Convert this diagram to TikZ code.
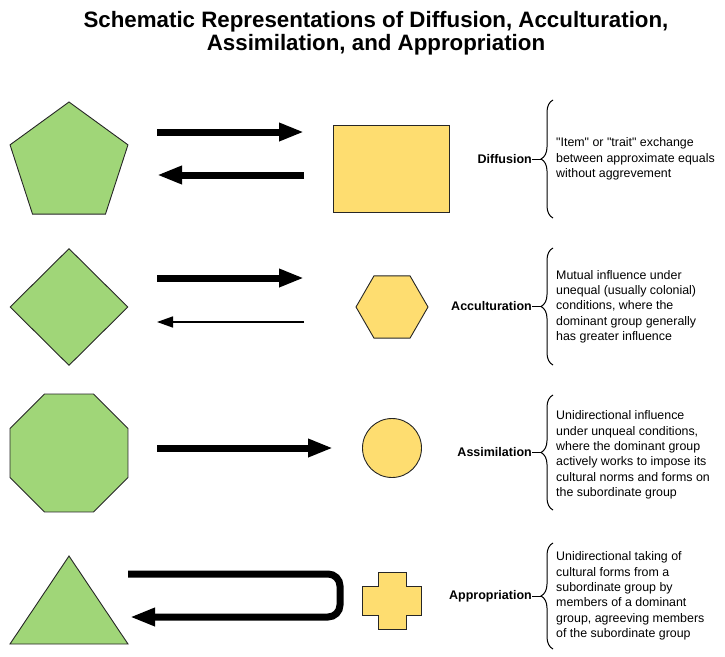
\documentclass[tikz,border=0pt]{standalone}
\usepackage{fontspec}
\setmainfont{Liberation Sans}
\usetikzlibrary{shapes.geometric, arrows.meta, decorations.pathreplacing}
\definecolor{shapegreen}{RGB}{160,214,120}
\definecolor{shapeyellow}{RGB}{254,221,112}
\tikzset{
  greenshape/.style={draw=black!85, fill=shapegreen, line width=0.9pt, inner sep=0pt},
  yellowshape/.style={draw=black!85, fill=shapeyellow, line width=0.9pt, inner sep=0pt},
  bigarrow/.style={line width=7pt, -{Triangle[length=25pt, width=17pt]}},
  thinarrow/.style={line width=1.5pt, -{Triangle[length=16pt, width=11pt]}},
  termlabel/.style={font=\bfseries\fontsize{12.5}{14}\selectfont, anchor=east, inner sep=0pt},
  description/.style={font=\fontsize{12.4}{15.3}\selectfont, align=left, anchor=west, inner sep=0pt},
  bracket/.style={decorate, decoration={brace, amplitude=12pt}, line width=1pt},
}
\begin{document}
\begin{tikzpicture}[x=1pt, y=-1pt]
  \useasboundingbox (0, 0) rectangle (725, 656);
  \node[font=\bfseries\fontsize{22.3}{23.5}\selectfont, align=center] (title) at (376, 33)
    {Schematic Representations of Diffusion, Acculturation,\\Assimilation, and Appropriation};
  % shapes
  \node[greenshape, regular polygon, regular polygon sides=5, minimum size=124pt] (pentagon) at (69, 164) {};
  \node[greenshape, diamond, minimum width=118pt, minimum height=117pt] (rhombus) at (69, 307) {};
  \node[greenshape, regular polygon, regular polygon sides=8, minimum size=127.7pt] (octagon) at (69, 453) {};
  \draw[greenshape] (10, 644) coordinate (tri1) -- (69, 556) coordinate (tri2) -- (128, 644) coordinate (tri3) -- cycle;
  \node[yellowshape, rectangle, minimum width=116pt, minimum height=87pt] (box) at (391, 169) {};
  \node[yellowshape, regular polygon, regular polygon sides=6, minimum size=72pt] (hexagon) at (392, 307) {};
  \node[yellowshape, circle, minimum size=59pt] (disc) at (392, 448) {};
  \draw[yellowshape] (378, 572) -- (406, 572) -- (406, 586) -- (421, 586) -- (421, 615) -- (406, 615)
    -- (406, 629) -- (378, 629) -- (378, 615) -- (362, 615) -- (362, 586) -- (378, 586) -- cycle;
  % arrows
  \draw[bigarrow] (157, 132) coordinate (d1) -- (304, 132) coordinate (d2);
  \draw[bigarrow] (304, 175) coordinate (d3) -- (157, 175) coordinate (d4);
  \draw[bigarrow] (157, 278) coordinate (a1) -- (304, 278) coordinate (a2);
  \draw[thinarrow] (304, 322) coordinate (a3) -- (157, 322) coordinate (a4);
  \draw[bigarrow] (157, 448) coordinate (s1) -- (333, 448) coordinate (s2);
  \draw[bigarrow, rounded corners=12pt] (128, 574) coordinate (p1) -- (340, 574) -- (340, 617) -- (130, 617) coordinate (p2);
  % braces
  \draw[bracket] (553, 218) -- (553, 100);
  \draw[bracket] (553, 365) -- (553, 248);
  \draw[bracket] (553, 510) -- (553, 395);
  \draw[bracket] (553, 649) -- (553, 543);
  \node[termlabel] (diffusion) at (532, 159) {Diffusion};
  \node[termlabel] (acculturation) at (532, 306.5) {Acculturation};
  \node[termlabel] (assimilation) at (532, 452.5) {Assimilation};
  \node[termlabel] (appropriation) at (532, 596) {Appropriation};
  \draw[line width=1pt] (diffusion.east) -- (541, 159);
  \draw[line width=1pt] (acculturation.east) -- (541, 306.5);
  \draw[line width=1pt] (assimilation.east) -- (541, 452.5);
  \draw[line width=1pt] (appropriation.east) -- (541, 596);
  \node[description] (diffusiontext) at (556, 159)
    {\textquotedbl Item\textquotedbl{} or \textquotedbl trait\textquotedbl{} exchange\\between approximate equals\\without aggrevement};
  \node[description] (acculturationtext) at (556, 306.5)
    {Mutual influence under\\unequal (usually colonial)\\conditions, where the\\dominant group generally\\has greater influence};
  \node[description] (assimilationtext) at (556, 455)
    {Unidirectional influence\\under unqueal conditions,\\where the dominant group\\actively works to impose its\\cultural norms and forms on\\the subordinate group};
  \node[description] (appropriationtext) at (556, 596)
    {Unidirectional taking of\\cultural forms from a\\subordinate group by\\members of a dominant\\group, agreeving members\\of the subordinate group};
\end{tikzpicture}
\end{document}
